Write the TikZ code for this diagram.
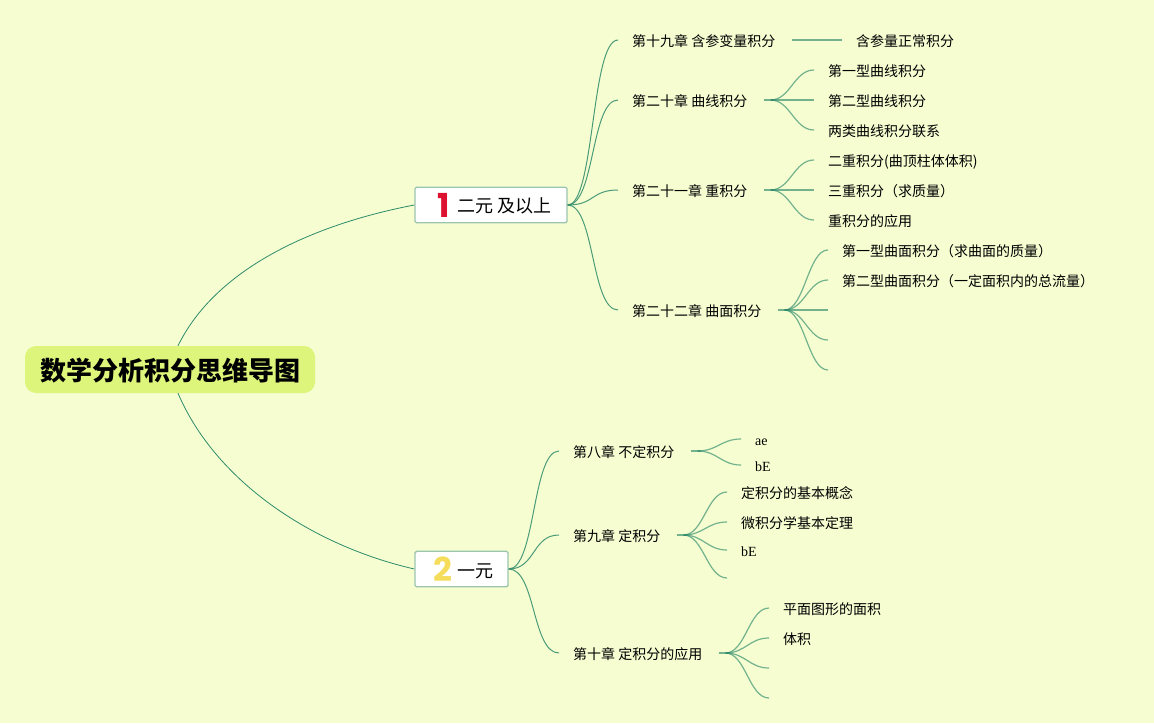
\documentclass[tikz,border=0pt]{standalone}
\usepackage{fontspec}
\setmainfont{Noto Sans CJK SC}
\newfontfamily\latinfont{Liberation Serif}
\newfontfamily\iconfont{Poppins}
\usepackage{tikz}
\usetikzlibrary{calc,positioning}
\definecolor{bgcol}{HTML}{F5FDD1}
\definecolor{rootcol}{HTML}{DDF57A}
\definecolor{linkcol}{HTML}{2E8B6A}
\definecolor{boxcol}{HTML}{9CC5B0}
\definecolor{onecol}{HTML}{DC1230}
\definecolor{twocol}{HTML}{F5DC5A}
\newcommand{\fanout}[3]{%
  \draw[leaflink, line width=1.8pt] ([xshift=2pt]#1.east) -- ++(10,0) coordinate (#1hub);
  \foreach \t in {#3}
    \draw[leaflink] ([xshift=-3pt]#1hub) to[out=0,in=180,distance=#2] (\t);
}
\begin{document}
\begin{tikzpicture}[x=1pt,y=-1pt,
  mainlink/.style={draw=linkcol, line width=0.8pt},
  leaflink/.style={draw=linkcol, draw opacity=0.65, line width=1.2pt},
  rootbox/.style={fill=rootcol, rounded corners=11pt, minimum width=290pt, minimum height=47pt, inner sep=0pt, text height=24pt, text depth=1.2pt, font=\fontsize{26}{30}\selectfont\bfseries},
  secbox/.style={draw=boxcol, line width=1.4pt, fill=white, rounded corners=1.5pt, minimum height=35.5pt, inner sep=0pt},
  sectext/.style={anchor=west, inner sep=0pt, font=\fontsize{18}{22}\selectfont},
  secicon/.style={inner sep=0pt, font=\fontsize{33}{36}\selectfont\iconfont\bfseries},
  item/.style={anchor=west, inner xsep=14pt, inner ysep=1pt, text height=13.8pt, text depth=1.2pt, font=\fontsize{14}{17}\selectfont}]
\useasboundingbox (0,0) rectangle (1154,723);
\fill[bgcol] (0,0) rectangle (1154,723);

\node[rootbox] (root) at (170,369.5) {数学分析积分思维导图};
\node[secbox, minimum width=152pt] (sec1) at (491,205) {};
\node[secbox, minimum width=93pt] (sec2) at (461.5,569) {};
\node[secicon, text=onecol] (icon1) at (443.5,205) {1};
\node[sectext] (sec1text) at (457,206) {二元 及以上};
\node[secicon, text=twocol] (icon2) at (442.5,569) {2};
\node[sectext] (sec2text) at (457,571) {一元};

\draw[mainlink] ([xshift=8pt]root.north) .. controls (215,270) and (310,225) .. (sec1.west);
\draw[mainlink] ([xshift=8pt]root.south) .. controls (215,480) and (310,545) .. (sec2.west);

\node[item] (ch19) at (618,40) {第十九章 含参变量积分};
\node[item] (ch20) at (618,100) {第二十章 曲线积分};
\node[item] (ch21) at (618,190) {第二十一章 重积分};
\node[item] (ch22) at (618,310) {第二十二章 曲面积分};
\node[item] (ch8) at (559,451) {第八章 不定积分};
\node[item] (ch9) at (559,535) {第九章 定积分};
\node[item] (ch10) at (559,653) {第十章 定积分的应用};

\foreach \t in {ch19,ch20,ch21,ch22}
  \draw[mainlink, line width=1pt, draw opacity=0.85] (sec1.east) to[out=0,in=180,distance=27pt] (\t.west);
\foreach \t in {ch8,ch9,ch10}
  \draw[mainlink, line width=1pt, draw opacity=0.85] (sec2.east) to[out=0,in=180,distance=27pt] (\t.west);

\node[item] (l190) at (842,40) {含参量正常积分};
\draw[leaflink] ([xshift=2pt]ch19.east) -- (l190.west);

\node[item] (l200) at (814,70) {第一型曲线积分};
\node[item] (l201) at (814,100) {第二型曲线积分};
\node[item] (l202) at (814,130) {两类曲线积分联系};
\fanout{ch20}{20pt}{l200.west,l201.west,l202.west}

\node[item] (l210) at (814,160) {二重积分(曲顶柱体体积)};
\node[item] (l211) at (814,190) {三重积分（求质量）};
\node[item] (l212) at (814,220) {重积分的应用};
\fanout{ch21}{20pt}{l210.west,l211.west,l212.west}

\node[item] (l220) at (828,250) {第一型曲面积分（求曲面的质量）};
\node[item] (l221) at (828,280) {第二型曲面积分（一定面积内的总流量）};
\coordinate (l222) at (828,310);
\coordinate (l223) at (828,340);
\coordinate (l224) at (828,370);
\fanout{ch22}{20pt}{l220.west,l221.west,l222,l223,l224}

\node[item, font=\fontsize{14}{17}\selectfont\latinfont] (l80) at (741,439) {ae};
\node[item, font=\fontsize{14}{17}\selectfont\latinfont] (l81) at (741,465) {bE};
\fanout{ch8}{20pt}{l80.west,l81.west}

\node[item] (l90) at (727,492) {定积分的基本概念};
\node[item] (l91) at (727,522) {微积分学基本定理};
\node[item, font=\fontsize{14}{17}\selectfont\latinfont] (l92) at (727,550) {bE};
\coordinate (l93) at (727,578);
\fanout{ch9}{20pt}{l90.west,l91.west,l92.west,l93}

\node[item] (l100) at (769,608) {平面图形的面积};
\node[item] (l101) at (769,638) {体积};
\coordinate (l102) at (769,668);
\coordinate (l103) at (769,698);
\fanout{ch10}{20pt}{l100.west,l101.west,l102,l103}
\end{tikzpicture}
\end{document}
